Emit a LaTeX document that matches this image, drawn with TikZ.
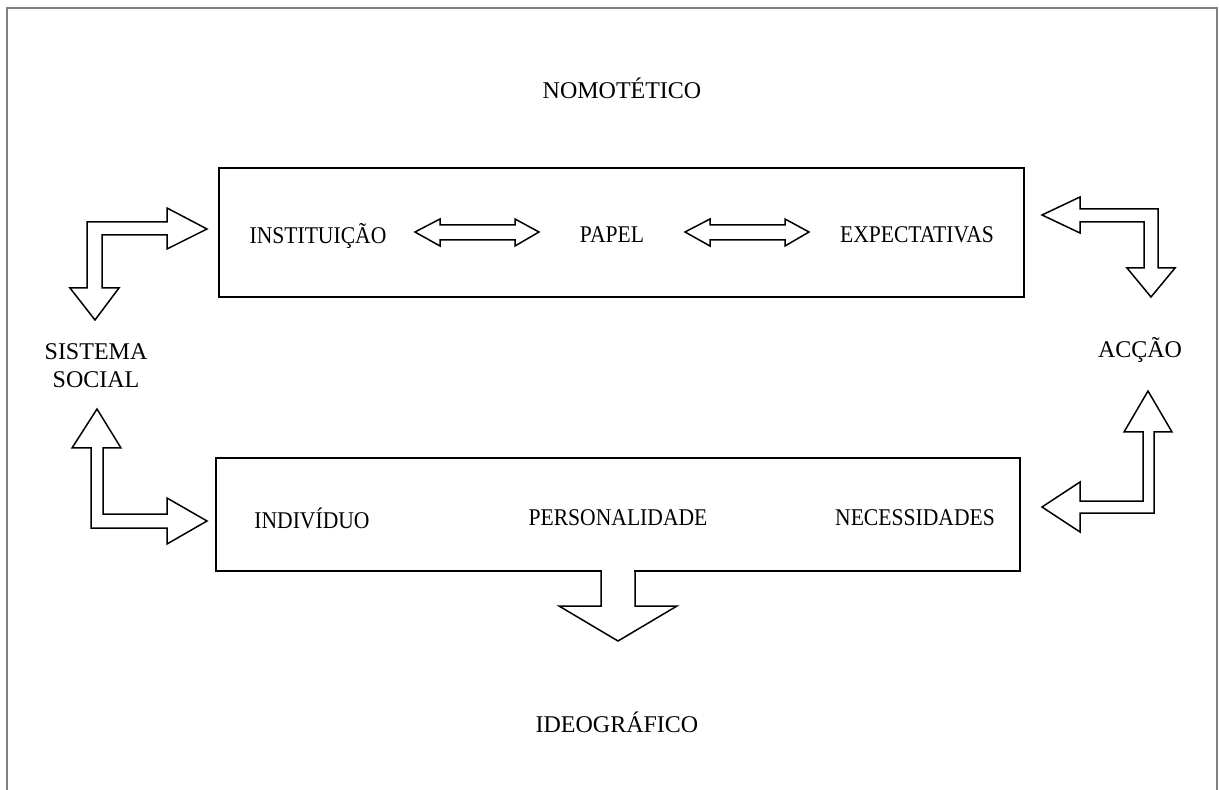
\documentclass[tikz,border=0pt]{standalone}
\usepackage{fontspec}
\setmainfont{Liberation Serif}
\newfontfamily\narrowserif[FakeStretch=0.9]{Liberation Serif}
\usepackage{tikz}
\usetikzlibrary{positioning}
\tikzset{blockarrow/.style={draw, line width=0.75pt, fill=white, line join=miter}}

\begin{document}
\begin{tikzpicture}[x=0.5pt, y=-0.5pt, font=\fontsize{12}{14}\selectfont, box/.style = {draw, line width=1pt, inner sep=0pt}, label/.style = {inner sep=1pt, align=center}, inbox/.style = {label, font=\fontsize{12}{14}\narrowserif}]
\useasboundingbox (0,0) rectangle (1219,790);
\draw[gray, line width=1pt] (7,790) -- (7,8) -- (1217,8) -- (1217,790);
% boxes
\node[box, minimum width=402.5pt, minimum height=64.5pt] (nomo) at (621.5,232.5) {};
\node[box, minimum width=402pt, minimum height=56.5pt] (ideo) at (618,514.5) {};
% texts
\node[label] (nomot) at (622,88) {NOMOTÉTICO};
\node[inbox] (inst) at (318,236) {INSTITUIÇÃO};
\node[inbox] (papel) at (612,235) {PAPEL};
\node[inbox] (expec) at (917,235) {EXPECTATIVAS};
\node[label] (sist) at (96,366) {SISTEMA\\SOCIAL};
\node[label] (accao) at (1140,350) {ACÇÃO};
\node[inbox] (indiv) at (312,518) {INDIVÍDUO};
\node[inbox] (perso) at (618,518) {PERSONALIDADE};
\node[inbox] (neces) at (915,518) {NECESSIDADES};
\node[label] (ideog) at (617,722) {IDEOGRÁFICO};
% double arrows
\draw[blockarrow] (415,232) -- (440,219) -- (440,225) -- (515,225) -- (515,219) -- (539,232) -- (515,246) -- (515,240) -- (440,240) -- (440,246) -- cycle;
\draw[blockarrow] (685,232) -- (710,219) -- (710,225) -- (785,225) -- (785,219) -- (809,232) -- (785,246) -- (785,240) -- (710,240) -- (710,246) -- cycle;
% elbow arrows
\draw[blockarrow] (207,229) -- (167,208) -- (167,222) -- (87,222) -- (87,288) -- (70,288) -- (95,320) -- (119,288) -- (102,288) -- (102,235) -- (167,235) -- (167,249) -- cycle;
\draw[blockarrow] (97,409) -- (121,448) -- (103,448) -- (103,514) -- (167,514) -- (167,498) -- (207,521) -- (167,544) -- (167,528) -- (91,528) -- (91,448) -- (72,448) -- cycle;
\draw[blockarrow] (1042,215) -- (1080,197) -- (1080,209) -- (1158,209) -- (1158,268) -- (1175,268) -- (1151,297) -- (1127,268) -- (1144,268) -- (1144,222) -- (1080,222) -- (1080,233) -- cycle;
\draw[blockarrow] (1148,391) -- (1172,432) -- (1154,432) -- (1154,513) -- (1080,513) -- (1080,532) -- (1042,507) -- (1080,482) -- (1080,501) -- (1143,501) -- (1143,432) -- (1124,432) -- cycle;
% arrow out of the lower box
\fill[white] (602,569) rectangle (634,574);
\draw[blockarrow, fill=none] (ideo.south -| 601,0) -- (601,606) -- (559,606) -- (618,641) -- (677,606) -- (635,606) -- (ideo.south -| 635,0);
\end{tikzpicture}
\end{document}
